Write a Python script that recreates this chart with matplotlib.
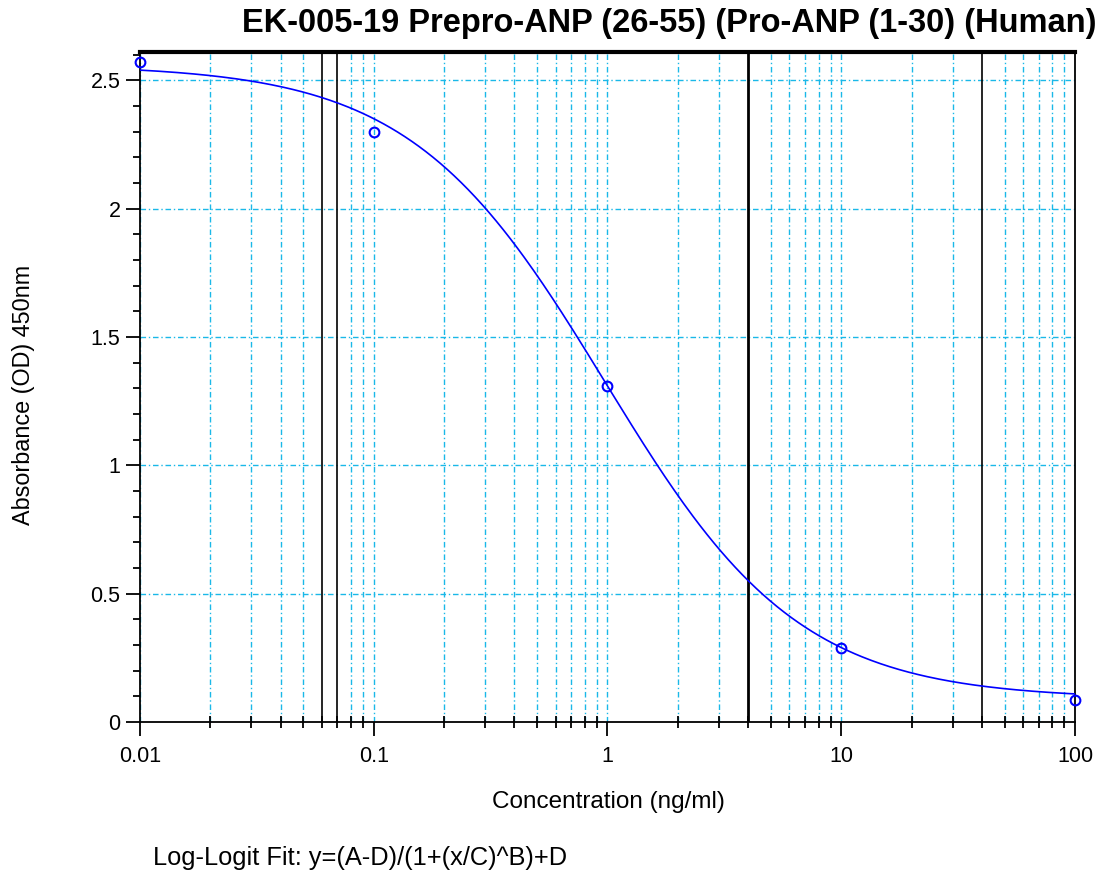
import numpy as np
import matplotlib
matplotlib.use("Agg")
from matplotlib import pyplot as plt
from matplotlib.ticker import LogLocator, FixedLocator, MultipleLocator, NullFormatter

# data
conc = [0.01, 0.1, 1, 10, 100]
od = [2.57, 2.30, 1.31, 0.29, 0.086]

# fit parameters (log-logit / 4PL), estimated from the drawn curve
fit_A = 2.56
fit_B = 1.044
fit_C = 0.976
fit_D = 0.09

# black vertical lines on the chart
black_lines = [0.06, 0.07, 4, 40]

x_ticks = [0.01, 0.1, 1, 10, 100]
x_labels = ["0.01", "0.1", "1", "10", "100"]
y_ticks = [0, 0.5, 1, 1.5, 2, 2.5]
y_labels = ["0", "0.5", "1", "1.5", "2", "2.5"]

title = "EK-005-19 Prepro-ANP (26-55) (Pro-ANP (1-30) (Human)"
xlab = "Concentration (ng/ml)"
ylab = "Absorbance (OD) 450nm"
note = "Log-Logit Fit: y=(A-D)/(1+(x/C)^B)+D"

plt.rcParams['font.family'] = ['Liberation Sans', 'DejaVu Sans']

fig = plt.figure(figsize=(11.1, 8.77), dpi=100)
ax = fig.add_axes([0.126, 0.1767, 0.8425, 0.764])

ax.set_xscale('log')
ax.set_xlim(0.01, 100)
ax.set_ylim(0, 2.61)

gcol = '#1ab8e8'
# grid: vertical at all decades and minor positions, except where black lines are
vgrid = []
for dec in [0.01, 0.1, 1, 10]:
    for m in range(1, 10):
        v = dec * m
        if not any(abs(v - b) < 1e-9 for b in black_lines):
            vgrid.append(v)
vgrid.append(100)
for v in vgrid:
    ax.axvline(v, color=gcol, lw=1, ls=(0, (4, 2, 1, 2)), zorder=1)
for h in y_ticks[1:]:
    ax.axhline(h, color=gcol, lw=1, ls=(0, (4, 2, 1, 2)), zorder=1)

for b in black_lines:
    ax.axvline(b, color='black', lw=2 if b == 4 else 1.2, zorder=2)

xs = np.logspace(-2, 2, 400)
ys = (fit_A - fit_D) / (1 + (xs / fit_C) ** fit_B) + fit_D
ax.plot(xs, ys, color='#0000ff', lw=1.2, zorder=3)
ax.plot(conc, od, 'o', mfc='none', mec='#0000ff', mew=1.5, ms=7, zorder=4, clip_on=False)

ax.xaxis.set_major_locator(FixedLocator(x_ticks))
ax.set_xticklabels(x_labels)
ax.xaxis.set_minor_locator(LogLocator(base=10, subs=np.arange(2, 10)))
ax.xaxis.set_minor_formatter(NullFormatter())
ax.yaxis.set_major_locator(FixedLocator(y_ticks))
ax.set_yticklabels(y_labels)
ax.yaxis.set_minor_locator(MultipleLocator(0.1))

ax.tick_params(axis='x', which='major', direction='out', length=10, width=1.3,
               labelsize=15.5, pad=7)
ax.tick_params(axis='x', which='minor', direction='inout', length=9, width=1.3)
ax.tick_params(axis='y', which='major', direction='out', length=10, width=1.3,
               labelsize=15.5, pad=4)
ax.tick_params(axis='y', which='minor', direction='out', length=5, width=1.3)

for s in ax.spines.values():
    s.set_linewidth(1.3)
ax.spines['top'].set_linewidth(3)

fig.text(0.988, 0.973, title, ha='right', va='center', fontsize=23.5, fontweight='bold')
fig.text(0.548, 0.085, xlab, ha='center', va='center', fontsize=17.5)
fig.text(0.021, 0.55, ylab, ha='center', va='center', fontsize=16.8, rotation=90)
fig.text(0.138, 0.022, note, ha='left', va='center', fontsize=18.3)

fig.savefig("out.png", dpi=100)
